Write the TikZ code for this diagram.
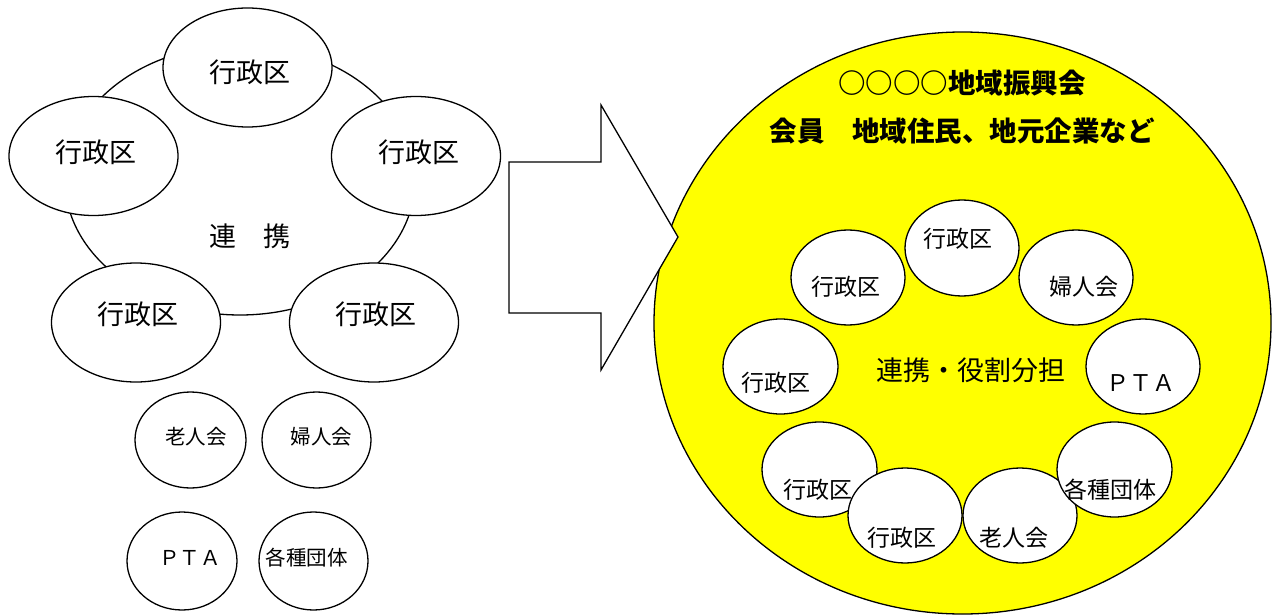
\documentclass[tikz,border=0pt]{standalone}
\usepackage{fontspec}
\setmainfont{Noto Sans CJK JP}
\usetikzlibrary{shapes.geometric}
\definecolor{pureyellow}{RGB}{255,255,0}
\tikzset{
  ov/.style={draw=black, line width=1.3pt, fill=white, ellipse, inner sep=0pt},
  txt/.style={inner sep=0pt, anchor=center, text=black},
  bigtx/.style={txt, font=\fontsize{27}{30}\selectfont},
  midtx/.style={txt, font=\fontsize{23}{26}\selectfont},
  smtx/.style={txt, font=\fontsize{20.5}{24}\selectfont},
  titletx/.style={txt, font=\bfseries\fontsize{27.5}{30}\selectfont},
}
\begin{document}
\begin{tikzpicture}[x=1pt,y=-1pt]
\useasboundingbox (0,0) rectangle (1279,615);
% ---------- left side ----------
\node[ov, minimum width=350pt, minimum height=270pt] (lring) at (240,180) {};
\node[bigtx] (lcenter) at (250,236) {連　携};
\node[ov, minimum width=169pt, minimum height=119pt] (l1) at (247.5,67.5) {};
\node[bigtx] (l1t) at (250,72) {行政区};
\node[ov, minimum width=169pt, minimum height=119pt] (l2) at (93.5,156) {};
\node[bigtx] (l2t) at (96,152) {行政区};
\node[ov, minimum width=169pt, minimum height=119pt] (l3) at (416,156) {};
\node[bigtx] (l3t) at (418.5,152) {行政区};
\node[ov, minimum width=169pt, minimum height=119pt] (l4) at (136,322.5) {};
\node[bigtx] (l4t) at (138,314) {行政区};
\node[ov, minimum width=169pt, minimum height=119pt] (l5) at (374,322.5) {};
\node[bigtx] (l5t) at (376,314) {行政区};
\node[ov, minimum width=111pt, minimum height=96pt] (s1) at (190.5,440) {};
\node[smtx] (s1t) at (196,437) {老人会};
\node[ov, minimum width=109pt, minimum height=96pt] (s2) at (316.5,440) {};
\node[smtx] (s2t) at (321.5,437) {婦人会};
\node[ov, minimum width=110pt, minimum height=98pt] (s3) at (182,561) {};
\node[smtx] (s3t) at (190,558) {ＰＴＡ};
\node[ov, minimum width=109pt, minimum height=98pt] (s4) at (313.5,561) {};
\node[smtx] (s4t) at (306.5,558) {各種団体};
% ---------- right side ----------
\node[draw=black, line width=1.3pt, fill=pureyellow, ellipse, inner sep=0pt,
      minimum width=617pt, minimum height=582pt] (big) at (962.5,323) {};
\node[titletx] (title1) at (962,83.5) {○○○○地域振興会};
\node[titletx] (title2) at (962,131) {会員　地域住民、地元企業など};
\node[bigtx] (rcenter) at (970.5,370) {連携・役割分担};
\node[ov, minimum width=114pt, minimum height=96pt] (r1) at (962,248) {};
\node[midtx] (r1t) at (957.5,239) {行政区};
\node[ov, minimum width=114pt, minimum height=95pt] (r2) at (848,277.5) {};
\node[midtx] (r2t) at (846,287) {行政区};
\node[ov, minimum width=114pt, minimum height=95pt] (r3) at (1076,277.5) {};
\node[midtx] (r3t) at (1083.5,287) {婦人会};
\node[ov, minimum width=115pt, minimum height=95pt] (r4) at (780.5,366.5) {};
\node[midtx] (r4t) at (776,383) {行政区};
\node[ov, minimum width=114pt, minimum height=95pt] (r5) at (1143,366.5) {};
\node[midtx] (r5t) at (1140.5,383) {ＰＴＡ};
\node[ov, minimum width=115pt, minimum height=95pt] (r6) at (819.5,469.5) {};
\node[midtx] (r6t) at (817.5,490) {行政区};
\node[ov, minimum width=114pt, minimum height=95pt] (r7) at (905,515.5) {};
\node[midtx] (r7t) at (901.5,538) {行政区};
\node[ov, minimum width=114pt, minimum height=95pt] (r8) at (1020,515.5) {};
\node[midtx] (r8t) at (1014,538) {老人会};
\node[ov, minimum width=115pt, minimum height=95pt] (r9) at (1114.5,469.5) {};
\node[midtx] (r9t) at (1110,490) {各種団体};
% ---------- arrow ----------
\draw[line width=1.3pt, fill=white, line join=miter]
  (509,162) -- (601,162) -- (601,105) -- (678,237) -- (601,370) -- (601,313) -- (509,313) -- cycle;
\end{tikzpicture}
\end{document}
